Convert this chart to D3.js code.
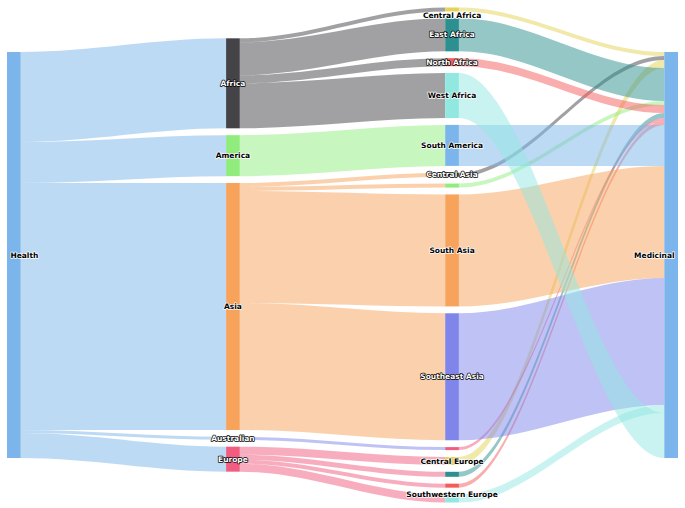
<!DOCTYPE html>
<html><head><meta charset="utf-8">
<script src="https://cdn.jsdelivr.net/npm/d3@7"></script>
<style>body{margin:0;background:#fff} svg{display:block}</style>
</head><body>
<svg id="chart" width="685" height="508"></svg>
<script>
// ---- data ----
const sourceName = "Health";
const targetName = "Medicinal";
const continents = ["Africa", "America", "Asia", "Australian", "Europe"];
const regions = ["Central Africa", "East Africa", "North Africa", "West Africa",
  "South America", "Central Asia", "East Asia", "South Asia", "Southeast Asia",
  "Oceania", "Central Europe", "Northern Europe", "Russia", "Southwestern Europe"];
const regionContinent = ["Africa", "Africa", "Africa", "Africa",
  "America", "Asia", "Asia", "Asia", "Asia",
  "Australian", "Europe", "Europe", "Europe", "Europe"];
const regionValues = [4, 33, 8, 45, 41, 4, 4, 112, 127, 3, 8, 5, 4, 8];
const medicinalOrder = ["Central Africa", "Central Asia", "Central Europe", "East Africa",
  "East Asia", "North Africa", "Northern Europe", "Oceania", "Russia", "South America",
  "South Asia", "Southeast Asia", "Southwestern Europe", "West Africa"];
const hiddenLabels = ["East Asia", "Oceania", "Northern Europe", "Russia"];
const palette = ["#7cb5ec", "#434348", "#90ed7d", "#f7a35c", "#8085e9",
  "#f15c80", "#e4d354", "#2b908f", "#f45b5b", "#91e8e1"];

// ---- build graph ----
const nodeNames = [sourceName, ...continents, ...regions, targetName];
const nodes = nodeNames.map((name, i) => ({
  name, color: palette[i % palette.length],
  column: name === sourceName ? 0 : continents.includes(name) ? 1 : name === targetName ? 3 : 2,
  linksFrom: [], linksTo: []
}));
const byName = new Map(nodes.map(n => [n.name, n]));
const links = [];
function addLink(s, t, v) {
  const l = {source: byName.get(s), target: byName.get(t), value: v};
  links.push(l); l.source.linksFrom.push(l); l.target.linksTo.push(l);
}
continents.forEach(c => addLink(sourceName, c,
  d3.sum(regions.filter((r, i) => regionContinent[i] === c), r => regionValues[regions.indexOf(r)])));
regions.forEach((r, i) => addLink(regionContinent[i], r, regionValues[i]));
medicinalOrder.forEach(r => addLink(r, targetName, regionValues[regions.indexOf(r)]));
nodes.forEach(n => n.value = Math.max(d3.sum(n.linksFrom, l => l.value), d3.sum(n.linksTo, l => l.value)));

// ---- layout ----
const W = 685, H = 508;
const plotTop = 7.5, plotBottom = 502.5, plotLeft = 7, plotRight = 678;
const nodeW = 13.7, nodePad = 6.85, curveFactor = 0.33;
const columns = d3.groups(nodes, n => n.column).sort((a, b) => a[0] - b[0]).map(d => d[1]);
const plotH = plotBottom - plotTop;
const ky = d3.min(columns, col => (plotH - (col.length - 1) * nodePad) / d3.sum(col, n => n.value));
const y = d3.scaleLinear().domain([0, 1]).range([0, ky]);
const x = d3.scaleLinear().domain([0, columns.length - 1]).range([plotLeft, plotRight - nodeW]);
const colDistance = x(1) - x(0);
const centerY = (plotTop + plotBottom) / 2;
columns.forEach(col => {
  const h = d3.sum(col, n => y(n.value)) + (col.length - 1) * nodePad;
  let yy = centerY - h / 2;
  col.forEach(n => {
    n.x0 = x(n.column); n.x1 = n.x0 + nodeW;
    n.y0 = yy; n.y1 = yy + y(n.value); yy = n.y1 + nodePad;
    let o = n.y0; n.linksFrom.forEach(l => { l.sy = o; o += y(l.value); });
    o = n.y0; n.linksTo.forEach(l => { l.ty = o; o += y(l.value); });
  });
});

const svg = d3.select("#chart");
const curvy = colDistance * curveFactor;
function linkPath(l) {
  const h = y(l.value), x0 = l.source.x1, x1 = l.target.x0;
  const p = d3.path();
  p.moveTo(x0, l.sy);
  p.bezierCurveTo(x0 + curvy, l.sy, x1 - curvy, l.ty, x1, l.ty);
  p.lineTo(x1, l.ty + h);
  p.bezierCurveTo(x1 - curvy, l.ty + h, x0 + curvy, l.sy + h, x0, l.sy + h);
  p.closePath();
  return p.toString();
}
svg.append("g").selectAll("path").data(links).join("path")
  .attr("d", linkPath)
  .attr("fill", l => l.source.color)
  .attr("fill-opacity", 0.5);

svg.append("g").selectAll("rect").data(nodes).join("rect")
  .attr("x", n => n.x0).attr("y", n => n.y0)
  .attr("width", nodeW).attr("height", n => Math.max(n.y1 - n.y0, 0.5))
  .attr("fill", n => n.color);

function contrast(c) {
  const rgb = d3.rgb(c);
  return rgb.r + rgb.g * 1.2 + rgb.b * 0.5 > 1.8 * 255 ? "#000000" : "#ffffff";
}
const labelPad = 3.4, labelH = 9;
const lg = svg.append("g")
  .attr("font-family", "'DejaVu Sans', Verdana, sans-serif")
  .attr("font-size", "7.5px").attr("font-weight", "bold");
nodes.filter(n => !hiddenLabels.includes(n.name)).forEach(n => {
  const fill = contrast(n.color);
  let cy = (n.y0 + n.y1) / 2;
  cy = Math.max(cy, plotTop + labelPad + labelH / 2);
  cy = Math.min(cy, plotBottom - labelPad - labelH / 2);
  const t = lg.append("text")
    .attr("text-anchor", "middle")
    .attr("dy", "0.35em")
    .attr("y", cy)
    .attr("fill", fill)
    .attr("stroke", fill === "#000000" ? "#ffffff" : "#000000")
    .attr("stroke-width", 1.37)
    .attr("stroke-linejoin", "round")
    .attr("paint-order", "stroke")
    .text(n.name);
  const w = t.node().getComputedTextLength();
  let cx = (n.x0 + n.x1) / 2;
  cx = Math.max(cx, plotLeft + labelPad + w / 2);
  cx = Math.min(cx, plotRight - labelPad - w / 2);
  t.attr("x", cx);
});
</script>
</body></html>
